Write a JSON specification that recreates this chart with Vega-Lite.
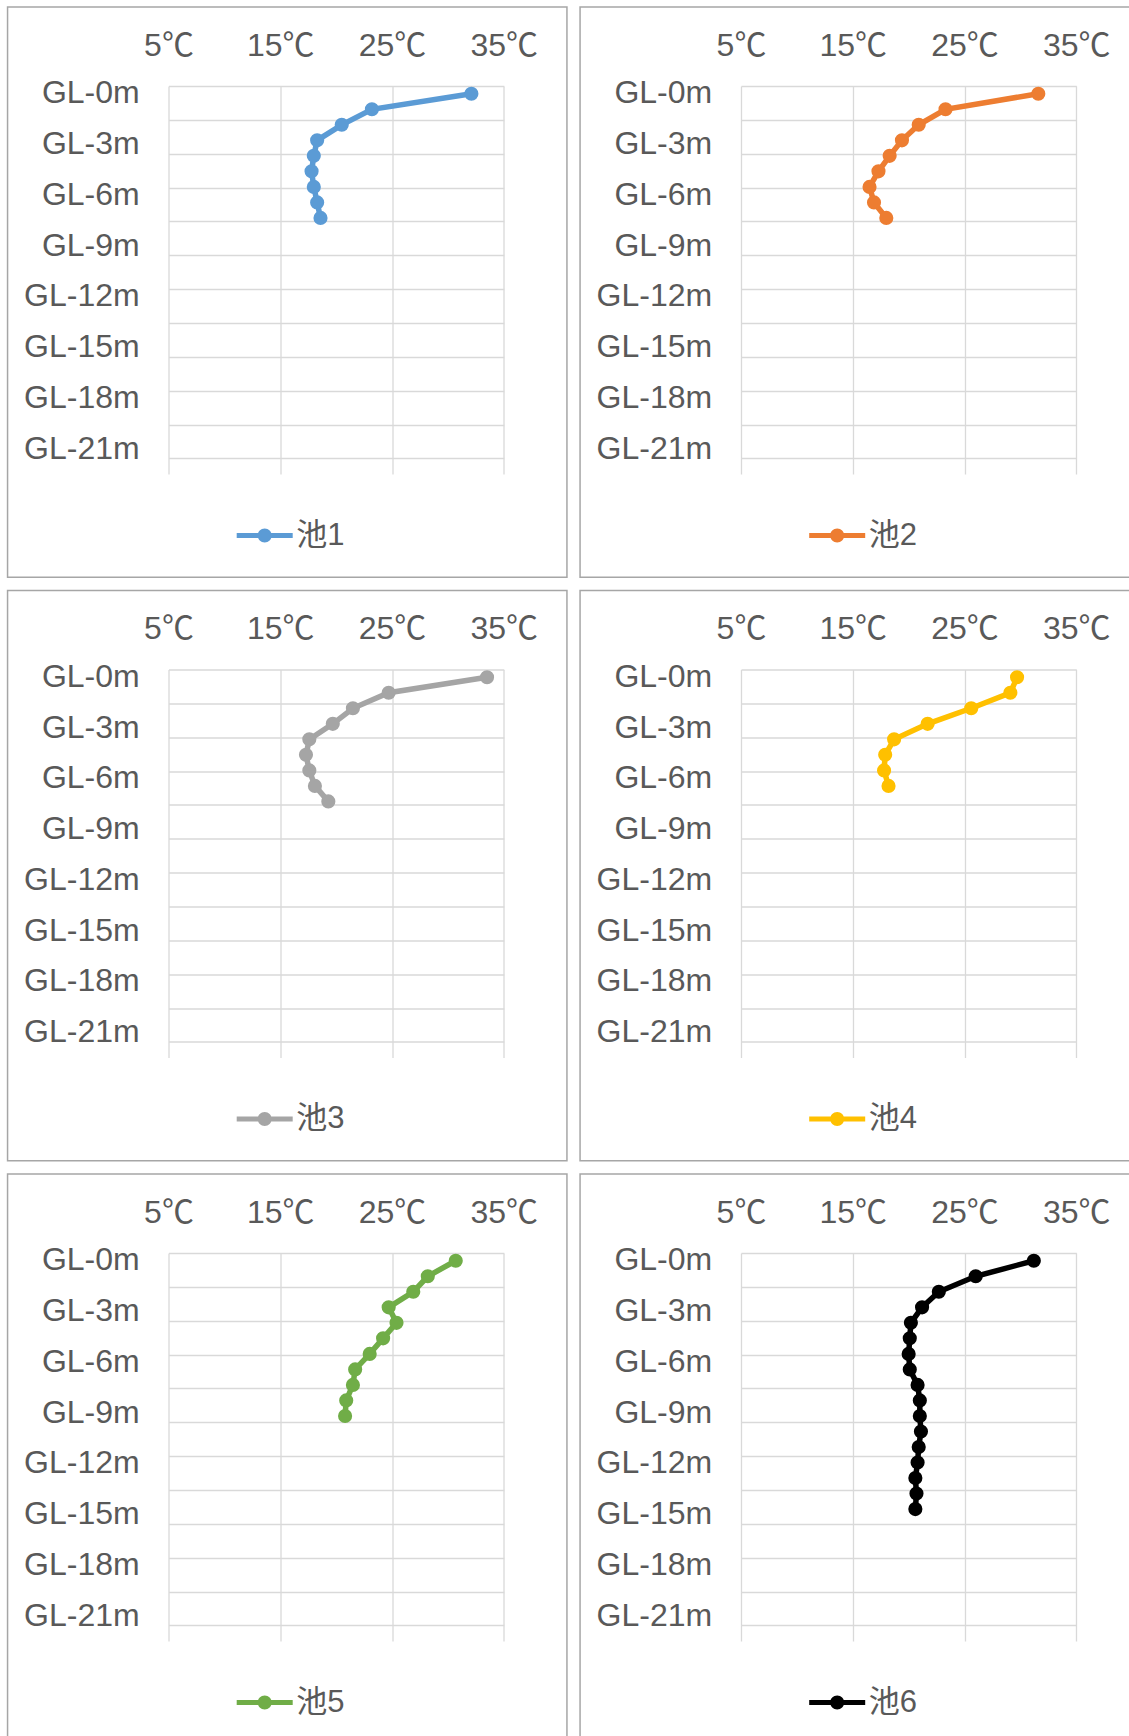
{
  "$schema": "https://vega.github.io/schema/vega-lite/v6.json",
  "background": "white",
  "padding": {"left": 6.5, "top": 6, "right": 0, "bottom": 0},
  "datasets": {
    "d": [
      {"pond": "池1", "depth": 0, "temp": 32.1}, {"pond": "池1", "depth": 1, "temp": 23.2}, {"pond": "池1", "depth": 2, "temp": 20.5}, {"pond": "池1", "depth": 3, "temp": 18.3}, {"pond": "池1", "depth": 4, "temp": 18.0}, {"pond": "池1", "depth": 5, "temp": 17.8}, {"pond": "池1", "depth": 6, "temp": 18.0}, {"pond": "池1", "depth": 7, "temp": 18.3}, {"pond": "池1", "depth": 8, "temp": 18.6},
      {"pond": "池2", "depth": 0, "temp": 31.6}, {"pond": "池2", "depth": 1, "temp": 23.3}, {"pond": "池2", "depth": 2, "temp": 20.9}, {"pond": "池2", "depth": 3, "temp": 19.4}, {"pond": "池2", "depth": 4, "temp": 18.3}, {"pond": "池2", "depth": 5, "temp": 17.3}, {"pond": "池2", "depth": 6, "temp": 16.5}, {"pond": "池2", "depth": 7, "temp": 16.9}, {"pond": "池2", "depth": 8, "temp": 18.0},
      {"pond": "池3", "depth": 0, "temp": 33.5}, {"pond": "池3", "depth": 1, "temp": 24.7}, {"pond": "池3", "depth": 2, "temp": 21.5}, {"pond": "池3", "depth": 3, "temp": 19.7}, {"pond": "池3", "depth": 4, "temp": 17.6}, {"pond": "池3", "depth": 5, "temp": 17.3}, {"pond": "池3", "depth": 6, "temp": 17.6}, {"pond": "池3", "depth": 7, "temp": 18.1}, {"pond": "池3", "depth": 8, "temp": 19.3},
      {"pond": "池4", "depth": 0, "temp": 29.7}, {"pond": "池4", "depth": 1, "temp": 29.1}, {"pond": "池4", "depth": 2, "temp": 25.6}, {"pond": "池4", "depth": 3, "temp": 21.7}, {"pond": "池4", "depth": 4, "temp": 18.7}, {"pond": "池4", "depth": 5, "temp": 17.9}, {"pond": "池4", "depth": 6, "temp": 17.8}, {"pond": "池4", "depth": 7, "temp": 18.2},
      {"pond": "池5", "depth": 0, "temp": 30.7}, {"pond": "池5", "depth": 1, "temp": 28.2}, {"pond": "池5", "depth": 2, "temp": 26.9}, {"pond": "池5", "depth": 3, "temp": 24.7}, {"pond": "池5", "depth": 4, "temp": 25.4}, {"pond": "池5", "depth": 5, "temp": 24.2}, {"pond": "池5", "depth": 6, "temp": 23.0}, {"pond": "池5", "depth": 7, "temp": 21.7}, {"pond": "池5", "depth": 8, "temp": 21.5}, {"pond": "池5", "depth": 9, "temp": 20.9}, {"pond": "池5", "depth": 10, "temp": 20.8},
      {"pond": "池6", "depth": 0, "temp": 31.2}, {"pond": "池6", "depth": 1, "temp": 26.0}, {"pond": "池6", "depth": 2, "temp": 22.7}, {"pond": "池6", "depth": 3, "temp": 21.2}, {"pond": "池6", "depth": 4, "temp": 20.2}, {"pond": "池6", "depth": 5, "temp": 20.1}, {"pond": "池6", "depth": 6, "temp": 20.0}, {"pond": "池6", "depth": 7, "temp": 20.1}, {"pond": "池6", "depth": 8, "temp": 20.8}, {"pond": "池6", "depth": 9, "temp": 21.0}, {"pond": "池6", "depth": 10, "temp": 21.0}, {"pond": "池6", "depth": 11, "temp": 21.1}, {"pond": "池6", "depth": 12, "temp": 20.9}, {"pond": "池6", "depth": 13, "temp": 20.8}, {"pond": "池6", "depth": 14, "temp": 20.6}, {"pond": "池6", "depth": 15, "temp": 20.7}, {"pond": "池6", "depth": 16, "temp": 20.6}
    ]
  },
  "columns": 2,
  "spacing": {"row": 11.5, "column": 10.5},
  "resolve": {"scale": {"color": "independent"}, "legend": {"color": "independent"}},
  "concat": [
    {
      "width": 335.3, "height": 388,
      "resolve": {"axis": {"y": "independent"}},
      "layer": [
        {"data": {"values": [{}]}, "mark": {"type": "rect", "filled": false, "stroke": "#a6a6a6", "strokeWidth": 1.5},
         "encoding": {"x": {"datum": -9.4, "type": "quantitative", "scale": {"domain": [5, 35], "nice": false, "zero": false}, "axis": {"orient": "top", "values": [5, 15, 25, 35], "grid": true, "labelExpr": "datum.value + '℃'", "labelFontSize": 32, "labelBaseline": "alphabetic", "labelPadding": 30.7, "labelFlush": false, "labelOverlap": false, "title": null}}, "x2": {"datum": 40.65},
                      "y": {"datum": -5.59, "type": "quantitative", "scale": {"domain": [-0.5, 24.5], "nice": false, "zero": false, "reverse": true}, "axis": {"orient": "right", "values": [-0.5, 1.6818, 3.8636, 6.0455, 8.2273, 10.4091, 12.5909, 14.7727, 16.9545, 19.1364, 21.3182, 23.5], "grid": true, "labels": false, "ticks": false, "domain": false, "title": null}},
                      "y2": {"datum": 31.15}}},
        {"data": {"name": "d"}, "transform": [{"filter": "datum.pond === '池1'"}],
         "mark": {"type": "line", "strokeWidth": 5.5, "point": {"filled": true, "size": 200, "opacity": 1}},
         "encoding": {
           "x": {"field": "temp", "type": "quantitative", "scale": {"domain": [5, 35], "nice": false, "zero": false}, "axis": {"orient": "top", "values": [5, 15, 25, 35], "grid": true, "labelExpr": "datum.value + '℃'", "labelFontSize": 32, "labelBaseline": "alphabetic", "labelPadding": 30.7, "labelFlush": false, "labelOverlap": false, "title": null}},
           "y": {"field": "depth", "type": "quantitative", "scale": {"domain": [-0.5, 24.5], "nice": false, "zero": false, "reverse": true}, "axis": {"orient": "left", "values": [-0.05, 3.22, 6.49, 9.76, 13.03, 16.3, 19.57, 22.84], "grid": false, "labelExpr": "'GL-' + (round(datum.value / 3.27) * 3) + 'm'", "labelFontSize": 32, "labelPadding": 29.3, "labelFlush": false, "labelOverlap": false, "title": null}},
           "order": {"field": "depth"},
           "color": {"field": "pond", "type": "nominal", "scale": {"range": ["#5B9BD5"]}, "legend": {"orient": "none", "legendX": 80.7, "legendY": 434, "title": null, "padding": 0, "symbolType": "M-4,-0.36L4,-0.36L4,0.36L-4,0.36Z M1,0A1,1,0,1,1,-1,0A1,1,0,1,1,1,0Z", "symbolSize": 196, "symbolStrokeWidth": 0, "symbolFillColor": "#5B9BD5", "labelFontSize": 31, "labelOffset": 16, "encode": {"symbols": {"update": {"fill": {"value": "#5B9BD5"}, "strokeWidth": {"value": 0}, "opacity": {"value": 1}}}}}}
         }}
      ]
    },
    {
      "width": 335.3, "height": 388,
      "resolve": {"axis": {"y": "independent"}},
      "layer": [
        {"data": {"values": [{}]}, "mark": {"type": "rect", "filled": false, "stroke": "#a6a6a6", "strokeWidth": 1.5},
         "encoding": {"x": {"datum": -9.4, "type": "quantitative", "scale": {"domain": [5, 35], "nice": false, "zero": false}, "axis": {"orient": "top", "values": [5, 15, 25, 35], "grid": true, "labelExpr": "datum.value + '℃'", "labelFontSize": 32, "labelBaseline": "alphabetic", "labelPadding": 30.7, "labelFlush": false, "labelOverlap": false, "title": null}}, "x2": {"datum": 40.65},
                      "y": {"datum": -5.59, "type": "quantitative", "scale": {"domain": [-0.5, 24.5], "nice": false, "zero": false, "reverse": true}, "axis": {"orient": "right", "values": [-0.5, 1.6818, 3.8636, 6.0455, 8.2273, 10.4091, 12.5909, 14.7727, 16.9545, 19.1364, 21.3182, 23.5], "grid": true, "labels": false, "ticks": false, "domain": false, "title": null}},
                      "y2": {"datum": 31.15}}},
        {"data": {"name": "d"}, "transform": [{"filter": "datum.pond === '池2'"}],
         "mark": {"type": "line", "strokeWidth": 5.5, "point": {"filled": true, "size": 200, "opacity": 1}},
         "encoding": {
           "x": {"field": "temp", "type": "quantitative", "scale": {"domain": [5, 35], "nice": false, "zero": false}, "axis": {"orient": "top", "values": [5, 15, 25, 35], "grid": true, "labelExpr": "datum.value + '℃'", "labelFontSize": 32, "labelBaseline": "alphabetic", "labelPadding": 30.7, "labelFlush": false, "labelOverlap": false, "title": null}},
           "y": {"field": "depth", "type": "quantitative", "scale": {"domain": [-0.5, 24.5], "nice": false, "zero": false, "reverse": true}, "axis": {"orient": "left", "values": [-0.05, 3.22, 6.49, 9.76, 13.03, 16.3, 19.57, 22.84], "grid": false, "labelExpr": "'GL-' + (round(datum.value / 3.27) * 3) + 'm'", "labelFontSize": 32, "labelPadding": 29.3, "labelFlush": false, "labelOverlap": false, "title": null}},
           "order": {"field": "depth"},
           "color": {"field": "pond", "type": "nominal", "scale": {"range": ["#ED7D31"]}, "legend": {"orient": "none", "legendX": 80.7, "legendY": 434, "title": null, "padding": 0, "symbolType": "M-4,-0.36L4,-0.36L4,0.36L-4,0.36Z M1,0A1,1,0,1,1,-1,0A1,1,0,1,1,1,0Z", "symbolSize": 196, "symbolStrokeWidth": 0, "symbolFillColor": "#ED7D31", "labelFontSize": 31, "labelOffset": 16, "encode": {"symbols": {"update": {"fill": {"value": "#ED7D31"}, "strokeWidth": {"value": 0}, "opacity": {"value": 1}}}}}}
         }}
      ]
    },
    {
      "width": 335.3, "height": 388,
      "resolve": {"axis": {"y": "independent"}},
      "layer": [
        {"data": {"values": [{}]}, "mark": {"type": "rect", "filled": false, "stroke": "#a6a6a6", "strokeWidth": 1.5},
         "encoding": {"x": {"datum": -9.4, "type": "quantitative", "scale": {"domain": [5, 35], "nice": false, "zero": false}, "axis": {"orient": "top", "values": [5, 15, 25, 35], "grid": true, "labelExpr": "datum.value + '℃'", "labelFontSize": 32, "labelBaseline": "alphabetic", "labelPadding": 30.7, "labelFlush": false, "labelOverlap": false, "title": null}}, "x2": {"datum": 40.65},
                      "y": {"datum": -5.59, "type": "quantitative", "scale": {"domain": [-0.5, 24.5], "nice": false, "zero": false, "reverse": true}, "axis": {"orient": "right", "values": [-0.5, 1.6818, 3.8636, 6.0455, 8.2273, 10.4091, 12.5909, 14.7727, 16.9545, 19.1364, 21.3182, 23.5], "grid": true, "labels": false, "ticks": false, "domain": false, "title": null}},
                      "y2": {"datum": 31.15}}},
        {"data": {"name": "d"}, "transform": [{"filter": "datum.pond === '池3'"}],
         "mark": {"type": "line", "strokeWidth": 5.5, "point": {"filled": true, "size": 200, "opacity": 1}},
         "encoding": {
           "x": {"field": "temp", "type": "quantitative", "scale": {"domain": [5, 35], "nice": false, "zero": false}, "axis": {"orient": "top", "values": [5, 15, 25, 35], "grid": true, "labelExpr": "datum.value + '℃'", "labelFontSize": 32, "labelBaseline": "alphabetic", "labelPadding": 30.7, "labelFlush": false, "labelOverlap": false, "title": null}},
           "y": {"field": "depth", "type": "quantitative", "scale": {"domain": [-0.5, 24.5], "nice": false, "zero": false, "reverse": true}, "axis": {"orient": "left", "values": [-0.05, 3.22, 6.49, 9.76, 13.03, 16.3, 19.57, 22.84], "grid": false, "labelExpr": "'GL-' + (round(datum.value / 3.27) * 3) + 'm'", "labelFontSize": 32, "labelPadding": 29.3, "labelFlush": false, "labelOverlap": false, "title": null}},
           "order": {"field": "depth"},
           "color": {"field": "pond", "type": "nominal", "scale": {"range": ["#A5A5A5"]}, "legend": {"orient": "none", "legendX": 80.7, "legendY": 434, "title": null, "padding": 0, "symbolType": "M-4,-0.36L4,-0.36L4,0.36L-4,0.36Z M1,0A1,1,0,1,1,-1,0A1,1,0,1,1,1,0Z", "symbolSize": 196, "symbolStrokeWidth": 0, "symbolFillColor": "#A5A5A5", "labelFontSize": 31, "labelOffset": 16, "encode": {"symbols": {"update": {"fill": {"value": "#A5A5A5"}, "strokeWidth": {"value": 0}, "opacity": {"value": 1}}}}}}
         }}
      ]
    },
    {
      "width": 335.3, "height": 388,
      "resolve": {"axis": {"y": "independent"}},
      "layer": [
        {"data": {"values": [{}]}, "mark": {"type": "rect", "filled": false, "stroke": "#a6a6a6", "strokeWidth": 1.5},
         "encoding": {"x": {"datum": -9.4, "type": "quantitative", "scale": {"domain": [5, 35], "nice": false, "zero": false}, "axis": {"orient": "top", "values": [5, 15, 25, 35], "grid": true, "labelExpr": "datum.value + '℃'", "labelFontSize": 32, "labelBaseline": "alphabetic", "labelPadding": 30.7, "labelFlush": false, "labelOverlap": false, "title": null}}, "x2": {"datum": 40.65},
                      "y": {"datum": -5.59, "type": "quantitative", "scale": {"domain": [-0.5, 24.5], "nice": false, "zero": false, "reverse": true}, "axis": {"orient": "right", "values": [-0.5, 1.6818, 3.8636, 6.0455, 8.2273, 10.4091, 12.5909, 14.7727, 16.9545, 19.1364, 21.3182, 23.5], "grid": true, "labels": false, "ticks": false, "domain": false, "title": null}},
                      "y2": {"datum": 31.15}}},
        {"data": {"name": "d"}, "transform": [{"filter": "datum.pond === '池4'"}],
         "mark": {"type": "line", "strokeWidth": 5.5, "point": {"filled": true, "size": 200, "opacity": 1}},
         "encoding": {
           "x": {"field": "temp", "type": "quantitative", "scale": {"domain": [5, 35], "nice": false, "zero": false}, "axis": {"orient": "top", "values": [5, 15, 25, 35], "grid": true, "labelExpr": "datum.value + '℃'", "labelFontSize": 32, "labelBaseline": "alphabetic", "labelPadding": 30.7, "labelFlush": false, "labelOverlap": false, "title": null}},
           "y": {"field": "depth", "type": "quantitative", "scale": {"domain": [-0.5, 24.5], "nice": false, "zero": false, "reverse": true}, "axis": {"orient": "left", "values": [-0.05, 3.22, 6.49, 9.76, 13.03, 16.3, 19.57, 22.84], "grid": false, "labelExpr": "'GL-' + (round(datum.value / 3.27) * 3) + 'm'", "labelFontSize": 32, "labelPadding": 29.3, "labelFlush": false, "labelOverlap": false, "title": null}},
           "order": {"field": "depth"},
           "color": {"field": "pond", "type": "nominal", "scale": {"range": ["#FFC000"]}, "legend": {"orient": "none", "legendX": 80.7, "legendY": 434, "title": null, "padding": 0, "symbolType": "M-4,-0.36L4,-0.36L4,0.36L-4,0.36Z M1,0A1,1,0,1,1,-1,0A1,1,0,1,1,1,0Z", "symbolSize": 196, "symbolStrokeWidth": 0, "symbolFillColor": "#FFC000", "labelFontSize": 31, "labelOffset": 16, "encode": {"symbols": {"update": {"fill": {"value": "#FFC000"}, "strokeWidth": {"value": 0}, "opacity": {"value": 1}}}}}}
         }}
      ]
    },
    {
      "width": 335.3, "height": 388,
      "resolve": {"axis": {"y": "independent"}},
      "layer": [
        {"data": {"values": [{}]}, "mark": {"type": "rect", "filled": false, "stroke": "#a6a6a6", "strokeWidth": 1.5},
         "encoding": {"x": {"datum": -9.4, "type": "quantitative", "scale": {"domain": [5, 35], "nice": false, "zero": false}, "axis": {"orient": "top", "values": [5, 15, 25, 35], "grid": true, "labelExpr": "datum.value + '℃'", "labelFontSize": 32, "labelBaseline": "alphabetic", "labelPadding": 30.7, "labelFlush": false, "labelOverlap": false, "title": null}}, "x2": {"datum": 40.65},
                      "y": {"datum": -5.59, "type": "quantitative", "scale": {"domain": [-0.5, 24.5], "nice": false, "zero": false, "reverse": true}, "axis": {"orient": "right", "values": [-0.5, 1.6818, 3.8636, 6.0455, 8.2273, 10.4091, 12.5909, 14.7727, 16.9545, 19.1364, 21.3182, 23.5], "grid": true, "labels": false, "ticks": false, "domain": false, "title": null}},
                      "y2": {"datum": 31.15}}},
        {"data": {"name": "d"}, "transform": [{"filter": "datum.pond === '池5'"}],
         "mark": {"type": "line", "strokeWidth": 5.5, "point": {"filled": true, "size": 200, "opacity": 1}},
         "encoding": {
           "x": {"field": "temp", "type": "quantitative", "scale": {"domain": [5, 35], "nice": false, "zero": false}, "axis": {"orient": "top", "values": [5, 15, 25, 35], "grid": true, "labelExpr": "datum.value + '℃'", "labelFontSize": 32, "labelBaseline": "alphabetic", "labelPadding": 30.7, "labelFlush": false, "labelOverlap": false, "title": null}},
           "y": {"field": "depth", "type": "quantitative", "scale": {"domain": [-0.5, 24.5], "nice": false, "zero": false, "reverse": true}, "axis": {"orient": "left", "values": [-0.05, 3.22, 6.49, 9.76, 13.03, 16.3, 19.57, 22.84], "grid": false, "labelExpr": "'GL-' + (round(datum.value / 3.27) * 3) + 'm'", "labelFontSize": 32, "labelPadding": 29.3, "labelFlush": false, "labelOverlap": false, "title": null}},
           "order": {"field": "depth"},
           "color": {"field": "pond", "type": "nominal", "scale": {"range": ["#70AD47"]}, "legend": {"orient": "none", "legendX": 80.7, "legendY": 434, "title": null, "padding": 0, "symbolType": "M-4,-0.36L4,-0.36L4,0.36L-4,0.36Z M1,0A1,1,0,1,1,-1,0A1,1,0,1,1,1,0Z", "symbolSize": 196, "symbolStrokeWidth": 0, "symbolFillColor": "#70AD47", "labelFontSize": 31, "labelOffset": 16, "encode": {"symbols": {"update": {"fill": {"value": "#70AD47"}, "strokeWidth": {"value": 0}, "opacity": {"value": 1}}}}}}
         }}
      ]
    },
    {
      "width": 335.3, "height": 388,
      "resolve": {"axis": {"y": "independent"}},
      "layer": [
        {"data": {"values": [{}]}, "mark": {"type": "rect", "filled": false, "stroke": "#a6a6a6", "strokeWidth": 1.5},
         "encoding": {"x": {"datum": -9.4, "type": "quantitative", "scale": {"domain": [5, 35], "nice": false, "zero": false}, "axis": {"orient": "top", "values": [5, 15, 25, 35], "grid": true, "labelExpr": "datum.value + '℃'", "labelFontSize": 32, "labelBaseline": "alphabetic", "labelPadding": 30.7, "labelFlush": false, "labelOverlap": false, "title": null}}, "x2": {"datum": 40.65},
                      "y": {"datum": -5.59, "type": "quantitative", "scale": {"domain": [-0.5, 24.5], "nice": false, "zero": false, "reverse": true}, "axis": {"orient": "right", "values": [-0.5, 1.6818, 3.8636, 6.0455, 8.2273, 10.4091, 12.5909, 14.7727, 16.9545, 19.1364, 21.3182, 23.5], "grid": true, "labels": false, "ticks": false, "domain": false, "title": null}},
                      "y2": {"datum": 31.15}}},
        {"data": {"name": "d"}, "transform": [{"filter": "datum.pond === '池6'"}],
         "mark": {"type": "line", "strokeWidth": 5.5, "point": {"filled": true, "size": 200, "opacity": 1}},
         "encoding": {
           "x": {"field": "temp", "type": "quantitative", "scale": {"domain": [5, 35], "nice": false, "zero": false}, "axis": {"orient": "top", "values": [5, 15, 25, 35], "grid": true, "labelExpr": "datum.value + '℃'", "labelFontSize": 32, "labelBaseline": "alphabetic", "labelPadding": 30.7, "labelFlush": false, "labelOverlap": false, "title": null}},
           "y": {"field": "depth", "type": "quantitative", "scale": {"domain": [-0.5, 24.5], "nice": false, "zero": false, "reverse": true}, "axis": {"orient": "left", "values": [-0.05, 3.22, 6.49, 9.76, 13.03, 16.3, 19.57, 22.84], "grid": false, "labelExpr": "'GL-' + (round(datum.value / 3.27) * 3) + 'm'", "labelFontSize": 32, "labelPadding": 29.3, "labelFlush": false, "labelOverlap": false, "title": null}},
           "order": {"field": "depth"},
           "color": {"field": "pond", "type": "nominal", "scale": {"range": ["#000000"]}, "legend": {"orient": "none", "legendX": 80.7, "legendY": 434, "title": null, "padding": 0, "symbolType": "M-4,-0.36L4,-0.36L4,0.36L-4,0.36Z M1,0A1,1,0,1,1,-1,0A1,1,0,1,1,1,0Z", "symbolSize": 196, "symbolStrokeWidth": 0, "symbolFillColor": "#000000", "labelFontSize": 31, "labelOffset": 16, "encode": {"symbols": {"update": {"fill": {"value": "#000000"}, "strokeWidth": {"value": 0}, "opacity": {"value": 1}}}}}}
         }}
      ]
    }
  ],
  "config": {
    "view": {"stroke": null},
    "font": "Liberation Sans, Noto Sans CJK JP",
    "axis": {"labelFont": "Liberation Sans, Noto Sans CJK JP", "labelColor": "#595959", "gridColor": "#d9d9d9", "gridWidth": 1.3, "domain": false, "ticks": false, "tickSize": 0},
    "legend": {"labelFont": "Liberation Sans, Noto Sans CJK JP", "labelColor": "#595959"}
  }
}
